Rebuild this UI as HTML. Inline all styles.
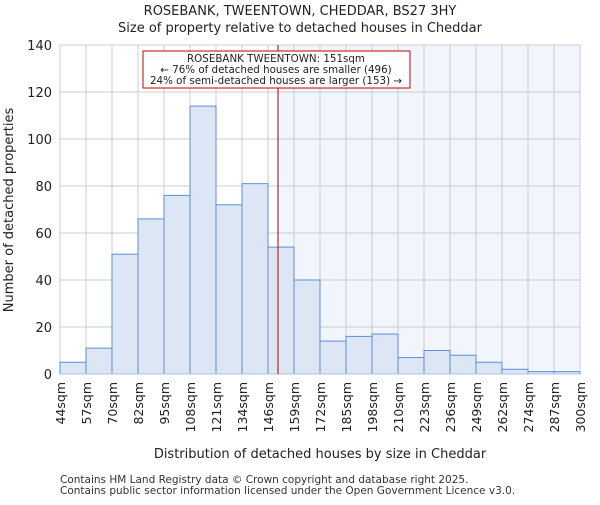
<!DOCTYPE html>
<html><head><meta charset="utf-8"><style>body{margin:0;background:#fff}svg{font-family:"DejaVu Sans","Liberation Sans",sans-serif}</style></head>
<body>
<svg width="600" height="500">
<g id="g"></g>
</svg>
<script>
const categories=["44sqm","57sqm","70sqm","82sqm","95sqm","108sqm","121sqm","134sqm","146sqm","159sqm","172sqm","185sqm","198sqm","210sqm","223sqm","236sqm","249sqm","262sqm","274sqm","287sqm","300sqm"];
const values=[5,11,51,66,76,114,72,81,54,40,14,16,17,7,10,8,5,2,1,1];
const yTicks=[0,20,40,60,80,100,120,140];
const markerBin=8, markerFrac=0.385;
const L=60,R=580,T=45,B=374,yMax=140;
const g=document.getElementById('g');
const NS='http://www.w3.org/2000/svg';
const bw=(R-L)/values.length;
const x=i=>L+i*bw, y=v=>B-(v/yMax)*(B-T);
function mk(t,a,txt){const e=document.createElementNS(NS,t);for(const k in a)e.setAttribute(k,a[k]);if(txt!==undefined)e.textContent=txt;g.appendChild(e);return e;}
const mx=x(markerBin+markerFrac);
let e=mk('rect',{x:mx,y:T,width:R-mx,height:B-T,fill:'#f1f5fd'});

yTicks.forEach(t=>{e=mk('line',{x1:L,x2:R,y1:y(t),y2:y(t),stroke:'#cccccc'});

e=mk('text',{x:L-8,y:y(t)+5,'text-anchor':'end','font-size':13,fill:'#222'},t);
});
categories.forEach((c,i)=>{const xx=x(i);e=mk('line',{x1:xx,x2:xx,y1:T,y2:B,stroke:'#cccccc'});

e=mk('text',{x:0,y:0,'text-anchor':'end','font-size':12.5,fill:'#222',transform:`translate(${xx+5},382) rotate(-90)`},c);
});
values.forEach((v,i)=>{e=mk('rect',{x:x(i),y:y(v),width:bw,height:B-y(v),fill:'#dce6f5',stroke:'#5a8fd6','stroke-width':1});
});
e=mk('line',{x1:L,x2:R,y1:B,y2:B,stroke:'#b0c4e0'});
e=mk('line',{x1:mx,x2:mx,y1:T,y2:B,stroke:'#b00000','stroke-width':1});

e=mk('rect',{x:143,y:51,width:267,height:37,fill:'#fff',stroke:'#c00000'});

[["ROSEBANK TWEENTOWN: 151sqm",62],["← 76% of detached houses are smaller (496)",73],["24% of semi-detached houses are larger (153) →",84]].forEach(a=>{
e=mk('text',{x:276,y:a[1],'text-anchor':'middle','font-size':10.3,fill:'#222'},a[0]);
});
e=mk('text',{x:300,y:15,'text-anchor':'middle','font-size':13,fill:'#222'},'ROSEBANK, TWEENTOWN, CHEDDAR, BS27 3HY');
e=mk('text',{x:300,y:32,'text-anchor':'middle','font-size':13,fill:'#222'},'Size of property relative to detached houses in Cheddar');
e=mk('text',{x:0,y:0,'text-anchor':'middle','font-size':13,fill:'#222',transform:'translate(13,210) rotate(-90)'},'Number of detached properties');
e=mk('text',{x:320,y:458,'text-anchor':'middle','font-size':13,fill:'#222'},'Distribution of detached houses by size in Cheddar');
e=mk('text',{x:60,y:483,'font-size':10.5,fill:'#333'},'Contains HM Land Registry data © Crown copyright and database right 2025.');
e=mk('text',{x:60,y:494,'font-size':10.5,fill:'#333'},'Contains public sector information licensed under the Open Government Licence v3.0.');
</script>
</body></html>
